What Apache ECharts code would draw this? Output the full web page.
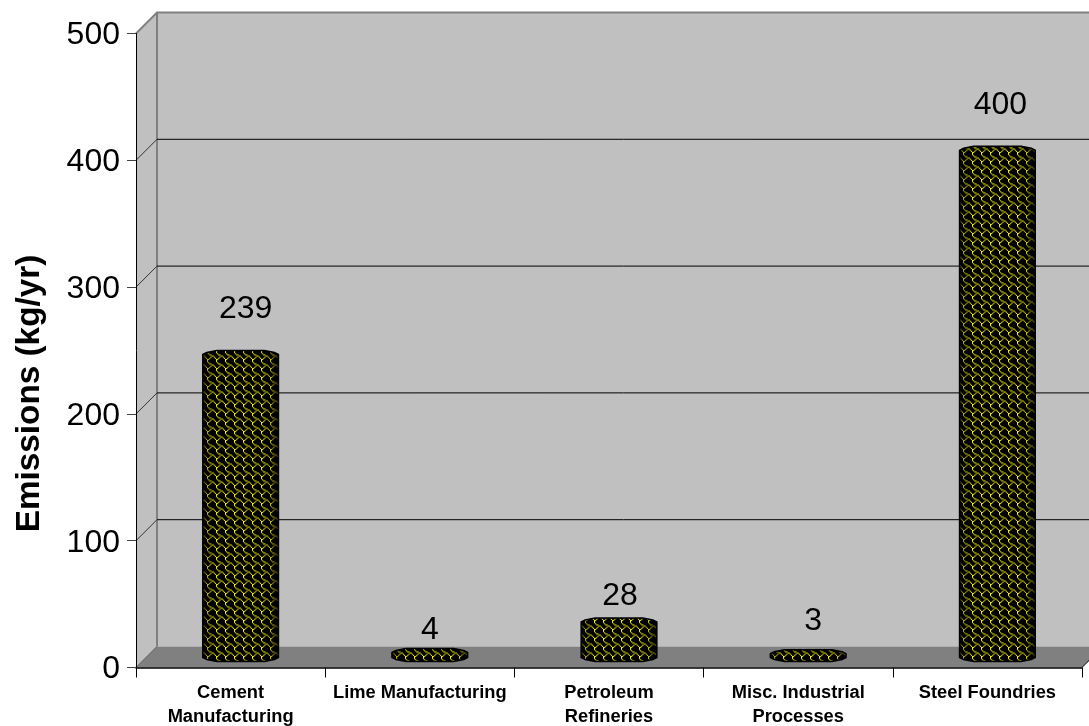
<!DOCTYPE html>
<html><head><meta charset="utf-8">
<style>html,body{margin:0;padding:0;background:#fff}#c{width:1089px;height:726px}</style>
<script src="https://cdn.jsdelivr.net/npm/echarts@6/dist/echarts.min.js"></script>
</head><body><div id="c"></div>
<script>
const categories = ['Cement\nManufacturing','Lime Manufacturing','Petroleum\nRefineries','Misc. Industrial\nProcesses','Steel Foundries'];
const values = [239,4,28,3,400];
const labelNudgeX = [5,0,1,5,3];
const labelNudgeY = [45,22,26,33,45];
const yTicks = [0,100,200,300,400,500];

const DEPTH = 21, SHIFT = 10, BAR_RATIO = 0.4, CAP = 4, CHAMFER = 14;
const FONT = '"Liberation Sans", Arial, sans-serif';
const SHINGLE = [0x01,0x01,0x02,0x0c,0x30,0x48,0x84,0x03];

function makeTile(){
  const S = 9, k = S/8;
  const c = document.createElement('canvas'); c.width = S; c.height = S;
  const g = c.getContext('2d');
  g.fillStyle = '#000'; g.fillRect(0,0,S,S);
  g.fillStyle = '#f4f000';
  SHINGLE.forEach((row,y)=>{
    for(let x=0;x<8;x++) if(row&(1<<x)) g.fillRect(x*k,y*k,k,k);
  });
  return c;
}
const patternFill = {image: makeTile(), repeat: 'repeat'};

const chart = echarts.init(document.getElementById('c'),null,{renderer:'canvas'});
chart.setOption({
  animation:false,
  backgroundColor:'#fff',
  grid:{left:136,right:7,top:33.5,bottom:58.5,containLabel:false,outerBoundsMode:'none'},
  xAxis:{type:'category',data:categories,boundaryGap:true,z:6,
    axisLine:{onZero:false,lineStyle:{color:'#000',width:1.5}},
    axisTick:{show:true,alignWithLabel:false,length:10,lineStyle:{color:'#000'}},
    axisLabel:{interval:0,color:'#000',fontFamily:FONT,fontWeight:'bold',fontSize:18.3,lineHeight:24,margin:13},
    splitLine:{show:false}},
  yAxis:{type:'value',min:0,max:500,interval:100,z:6,
    name:'Emissions (kg/yr)',nameLocation:'middle',nameRotate:90,nameGap:90,
    nameTextStyle:{color:'#000',fontFamily:FONT,fontWeight:'bold',fontSize:33.3,padding:[0,86,0,0]},
    axisLine:{show:true,lineStyle:{color:'#000',width:1}},
    axisTick:{show:true,length:9,lineStyle:{color:'#444'}},
    axisLabel:{margin:16,
      formatter:v=>yTicks.includes(v)?'{t|'+v+'}':'',
      rich:{t:{color:'#000',fontFamily:FONT,fontSize:32,padding:[4,0,0,0]}}},
    splitLine:{show:false}},
  series:[
    {type:'custom',z:1,silent:true,clip:false,data:[0],
     encode:{x:0,y:1},
     renderItem(params,api){
       const o=api.coord([0,0]); const band=api.size([1,0])[0];
       const x0=o[0]-band/2, y0=o[1];
       const top=api.coord([0,500])[1];
       const x1=x0+band*categories.length;
       const d=DEPTH;
       const kids=[];
       kids.push({type:'polygon',shape:{points:[[x0,top],[x0+d,top-d],[x1+d,top-d],[x1+d,y0-d],[x0+d,y0-d],[x0,y0]]},style:{fill:'#c0c0c0'}});
       kids.push({type:'polygon',shape:{points:[[x0,y0],[x0+d,y0-d],[x1+d,y0-d],[x1,y0]]},style:{fill:'#808080'}});
       kids.push({type:'polyline',shape:{points:[[x0,top],[x0+d,top-d],[x1+d,top-d]]},style:{fill:null,stroke:'#808080',lineWidth:2}});
       kids.push({type:'line',shape:{x1:x0+d,y1:top-d,x2:x0+d,y2:y0-d},style:{stroke:'#808080',lineWidth:2}});
       yTicks.forEach(v=>{
         const y=api.coord([0,v])[1];
         if(v>0&&v<500){
           kids.push({type:'line',shape:{x1:x0+d,y1:y-d,x2:x1+d,y2:y-d},style:{stroke:'#000',lineWidth:1}});
           kids.push({type:'line',shape:{x1:x0,y1:y,x2:x0+d,y2:y-d},style:{stroke:'#333',lineWidth:1}});
         }
       });
       kids.push({type:'line',shape:{x1:x0,y1:y0,x2:x0+d,y2:y0-d},style:{stroke:'#555',lineWidth:1}});
       kids.push({type:'line',shape:{x1:x1,y1:y0,x2:x1+d,y2:y0-d},style:{stroke:'#000',lineWidth:1}});
       return {type:'group',children:kids};
     }},
    {type:'custom',z:3,clip:false,
     data:values.map((v,i)=>[i,v]),
     encode:{x:0,y:1},
     renderItem(params,api){
       const i=api.value(0), v=api.value(1);
       const t=api.coord([i,v]), b=api.coord([i,0]);
       const w=api.size([1,0])[0]*BAR_RATIO;
       const cx=t[0]+SHIFT, rx=w/2;
       const yt=t[1]-SHIFT, yb=b[1]-SHIFT;
       const xl=cx-rx, xr=cx+rx;
       const pts=[[xl,yt],[xl+4,yt-2],[xl+CHAMFER,yt-CAP],[xr-CHAMFER,yt-CAP],[xr-4,yt-2],[xr,yt],
                  [xr,yb],[xr-4,yb+2],[xr-CHAMFER,yb+CAP],[xl+CHAMFER,yb+CAP],[xl+4,yb+2],[xl,yb]];
       const idx=params.dataIndex;
       return {type:'group',children:[
         {type:'polygon',shape:{points:pts},style:{fill:patternFill,stroke:'#000',lineWidth:1.5}},
         {type:'polygon',shape:{points:pts},style:{stroke:null,fill:{type:'linear',x:0,y:0,x2:1,y2:0,colorStops:[
           {offset:0,color:'rgba(0,0,0,0.6)'},{offset:0.05,color:'rgba(0,0,0,0.3)'},{offset:0.14,color:'rgba(0,0,0,0)'},
           {offset:0.82,color:'rgba(0,0,0,0)'},{offset:0.93,color:'rgba(0,0,0,0.3)'},{offset:1,color:'rgba(0,0,0,0.6)'}]}}},
         {type:'text',style:{x:cx+labelNudgeX[idx],y:yt-labelNudgeY[idx],text:String(values[idx]),
           fill:'#000',fontFamily:FONT,fontSize:32,align:'center',verticalAlign:'middle'},z2:10}
       ]};
     }}
  ]
});
</script></body></html>
